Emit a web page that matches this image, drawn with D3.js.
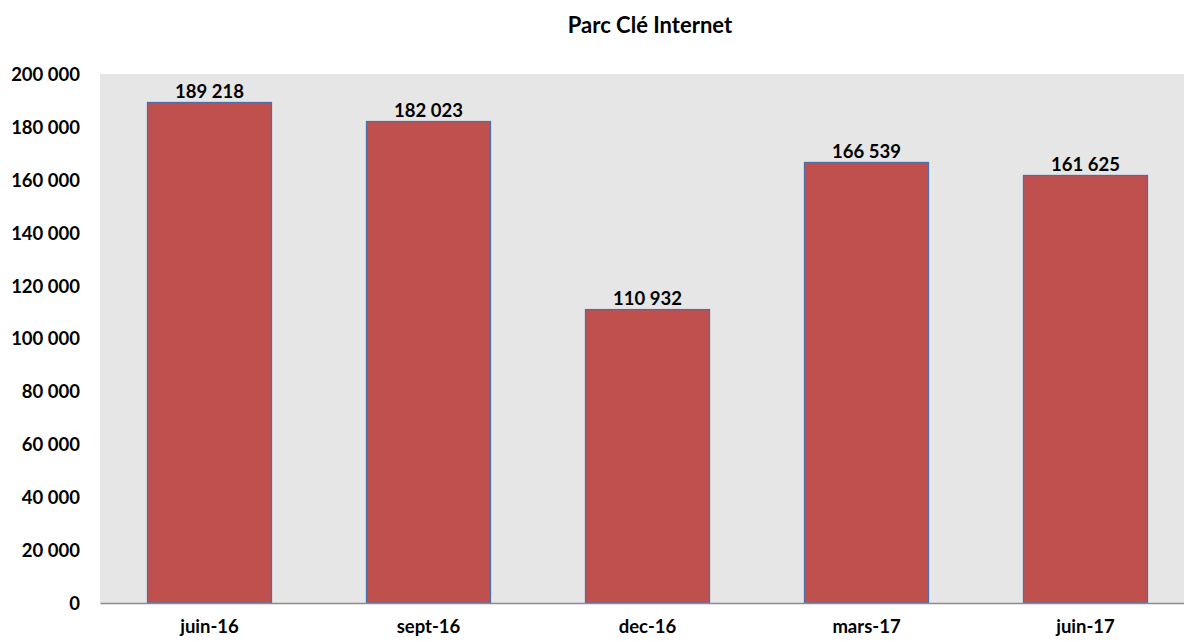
<!DOCTYPE html>
<html>
<head>
<meta charset="utf-8">
<script src="https://cdn.jsdelivr.net/npm/d3@7"></script>
<style>
body { margin: 0; background: #fff; }
text { font-family: Lato, "Open Sans", sans-serif; font-weight: bold; fill: #000; }
</style>
</head>
<body>
<script>
// données
var categories = ["juin-16", "sept-16", "dec-16", "mars-17", "juin-17"];
var values = [189218, 182023, 110932, 166539, 161625];
var yTicks = [0, 20000, 40000, 60000, 80000, 100000, 120000, 140000, 160000, 180000, 200000];

var width = 1184, height = 642;
var plot = { left: 100, right: 1195, top: 74, bottom: 603 };

var svg = d3.select("body").append("svg")
    .attr("width", width)
    .attr("height", height);

var fmt = function (v) {
    return d3.format(",")(v).replace(/,/g, " ");
};

var x = d3.scaleBand()
    .domain(categories)
    .range([plot.left, plot.right])
    .paddingInner(0.434)
    .paddingOuter(0.217);

var y = d3.scaleLinear()
    .domain([0, 200000])
    .range([plot.bottom, plot.top]);

// fond gris
svg.append("rect")
    .attr("x", plot.left)
    .attr("y", plot.top)
    .attr("width", plot.right - plot.left)
    .attr("height", plot.bottom - plot.top)
    .attr("fill", "#e6e6e6");

// titre
svg.append("text")
    .attr("x", 650)
    .attr("y", 33)
    .attr("text-anchor", "middle")
    .style("font-size", "22px")
    .text("Parc Clé Internet");

// barres
var data = categories.map(function (c, i) { return { cat: c, val: values[i] }; });

svg.selectAll(".bar")
    .data(data)
    .enter()
    .append("rect")
    .attr("class", "bar")
    .attr("x", function (d) { return x(d.cat); })
    .attr("width", x.bandwidth())
    .attr("y", function (d) { return y(d.val); })
    .attr("height", function (d) { return y(0) - y(d.val); })
    .attr("fill", "#c0504d")
    .attr("stroke", "#4a6fa8")
    .attr("stroke-width", 1.3);

// étiquettes de valeurs
svg.selectAll(".label")
    .data(data)
    .enter()
    .append("text")
    .attr("class", "label")
    .attr("x", function (d) { return x(d.cat) + x.bandwidth() / 2; })
    .attr("y", function (d) { return y(d.val) - 5; })
    .attr("text-anchor", "middle")
    .style("font-size", "18.5px")
    .text(function (d) { return fmt(d.val); });

// axe y
var yAxis = svg.append("g")
    .attr("transform", "translate(" + plot.left + ",0)")
    .call(d3.axisLeft(y).tickValues(yTicks).tickSize(0).tickPadding(20).tickFormat(fmt));
yAxis.select(".domain").remove();
yAxis.selectAll("text").style("font-size", "18.5px").attr("dy", "0.35em");

// axe x
var xAxis = svg.append("g")
    .attr("transform", "translate(0," + plot.bottom + ")")
    .call(d3.axisBottom(x).tickSize(0).tickPadding(17));
xAxis.select(".domain").attr("stroke", "#8c8c8c").attr("stroke-width", 1.5);
xAxis.selectAll("text").style("font-size", "18.5px");
</script>
</body>
</html>
